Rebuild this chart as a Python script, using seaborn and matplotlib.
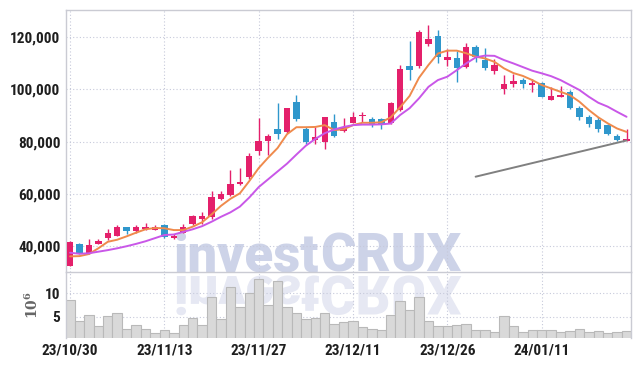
import numpy as np
import pandas as pd
import matplotlib
matplotlib.use("Agg")
import matplotlib.pyplot as plt
import seaborn as sns
from matplotlib.textpath import TextPath
from matplotlib.patches import PathPatch
from matplotlib.font_manager import FontProperties
from matplotlib.transforms import Affine2D
from matplotlib.ticker import FuncFormatter

# ---------------- data ----------------
trading_days = pd.bdate_range("2023-10-30", "2024-01-24", freq="C",
                              holidays=["2023-12-25", "2023-12-29", "2024-01-01"])
dates = [d.strftime("%y/%m/%d") for d in trading_days]

open_ = [32300, 40650, 37100, 40800, 43100, 43800, 47200, 45600, 46300, 46200,
         47900, 43100, 45000, 48300, 50400, 50900, 58000, 59600, 63700, 66500,
         76500, 80100, 84700, 83800, 95300, 84800, 80700, 79900, 87500, 84100,
         87200, 89800, 88700, 88600, 87200, 92100, 109000, 109000, 117400, 120500,
         111200, 112050, 108600, 116200, 111400, 107200, 100300, 102200, 103600, 101900,
         102450, 96050, 97200, 98900, 92900, 89400, 88250, 86200, 82100, 80200]
high = [41900, 40900, 42400, 42700, 46300, 47900, 47300, 48100, 48600, 47900,
        48200, 44400, 48200, 51600, 52800, 61100, 61000, 69100, 69700, 75600,
        89100, 82900, 94700, 92900, 97900, 85400, 85700, 89500, 90600, 88900,
        91300, 91300, 89400, 88900, 95200, 109250, 118600, 122700, 124700, 122900,
        115400, 114900, 117900, 116900, 115900, 111600, 105400, 106000, 104400, 104000,
        102850, 101000, 101200, 99900, 93500, 90200, 89500, 86800, 83000, 84700]
low = [32100, 36900, 36900, 40600, 42200, 43600, 44400, 45000, 46000, 45900,
       43100, 42600, 44800, 47900, 48300, 50400, 57500, 59200, 63200, 65500,
       74800, 74800, 80800, 83400, 88000, 79000, 79000, 77000, 81800, 83500,
       87000, 87500, 85450, 84700, 86800, 91800, 103600, 108100, 116800, 110250,
       109100, 102700, 108100, 110600, 107300, 106000, 98300, 100800, 100400, 98900,
       97000, 95900, 97100, 92500, 88100, 85600, 83600, 82600, 80100, 80100]
close = [41400, 37100, 40150, 41900, 44900, 47200, 45600, 47200, 47200, 47200,
         43500, 43800, 47100, 51400, 51400, 58700, 59800, 63700, 64450, 74300,
         80200, 82100, 82800, 92700, 88600, 79900, 81700, 89300, 82200, 85450,
         89300, 90100, 86200, 86300, 94800, 107800, 107400, 122100, 119350, 112300,
         112400, 108300, 116200, 112560, 108200, 109400, 102100, 103200, 102100, 102500,
         97200, 97350, 97700, 93000, 89400, 86800, 84800, 83000, 80600, 80900]
ma5 = [35900, 36000, 36800, 39000, 41500, 42300, 43600, 45000, 46300, 46800,
       46700, 46000, 46000, 47300, 49000, 52000, 55300, 58000, 60100, 64800,
       69800, 73800, 77500, 82800, 85500, 85500, 85600, 86300, 84400, 84700,
       86300, 87200, 87200, 87400, 89300, 93200, 97500, 104500, 109400, 113800,
       114900, 114900, 113900, 112600, 111900, 110600, 108100, 106300, 105200, 103600,
       101700, 100400, 99100, 97800, 95300, 92100, 89300, 87000, 85000, 83700]
ma10 = [37300, 36900, 37100, 37700, 38300, 39000, 39800, 40700, 41700, 42900,
        44100, 44300, 45300, 46300, 47500, 49200, 51100, 52800, 55000, 58500,
        62500, 65500, 68500, 71500, 75000, 78400, 81000, 83200, 84600, 85600,
        86300, 86500, 86500, 86600, 86900, 90200, 92800, 96600, 101000, 103600,
        104900, 107400, 110000, 112300, 113000, 112900, 111300, 110000, 108600, 107200,
        106200, 105100, 103600, 101700, 99800, 97200, 94900, 93400, 91400, 89500]
volume_m = [8.6, 4.0, 5.4, 2.9, 5.2, 5.8, 2.3, 3.3, 2.3, 1.5,
            2.1, 1.5, 3.1, 4.8, 3.1, 9.2, 4.4, 11.25, 7.1, 10.0,
            13.1, 7.5, 12.6, 7.1, 5.8, 4.4, 4.6, 5.8, 3.5, 3.75,
            4.0, 2.7, 2.3, 2.1, 5.4, 8.3, 6.5, 9.2, 4.0, 2.9,
            2.9, 3.1, 3.5, 2.1, 2.1, 1.7, 5.2, 2.9, 1.7, 2.1,
            2.1, 2.1, 1.7, 1.9, 2.3, 1.7, 1.9, 1.5, 1.7, 1.9]
trend_dates = ["24/01/02", "24/01/24"]
trend_values = [66500, 80400]
tick_labels = ["23/10/30", "23/11/13", "23/11/27", "23/12/11", "23/12/26", "24/01/11"]
price_ticks = [40000, 60000, 80000, 100000, 120000]
volume_ticks = [5, 10]

# ---------------- style ----------------
RED = "#e4206b"
BLUE = "#2f97cc"
ORANGE = "#ef8a4c"
PURPLE = "#c957e8"
GRID = "#c6c9da"
SPINE = "#cacbd3"
TXT = "#1e1e1e"

sns.set_theme(style="white")
plt.rcParams["font.family"] = ["Liberation Sans Narrow", "Roboto Condensed",
                               "Open Sans Condensed", "Liberation Sans", "DejaVu Sans"]
plt.rcParams["font.weight"] = "bold"

df = pd.DataFrame({"date": dates, "open": open_, "high": high, "low": low,
                   "close": close, "ma5": ma5, "ma10": ma10, "vol": volume_m})
df["pos"] = np.arange(len(df))
pos_of = {d: i for i, d in enumerate(dates)}

W, H = 639, 366
fig = plt.figure(figsize=(W / 100, H / 100), dpi=100, facecolor="white")
L, R = 66, 630.5
ax = fig.add_axes([L / W, 1 - 272 / H, (R - L) / W, (272 - 9.5) / H])
axv = fig.add_axes([L / W, 1 - 337.7 / H, (R - L) / W, (337.7 - 272) / H])
for a in (ax, axv):
    a.set_facecolor("none")

# ---------------- watermark (behind everything) ----------------
WM_FONT = ["Roboto", "DejaVu Sans"]
wm_main = "#cdd3e8"
wm_refl = "#e6e8f3"
wm_items = [("invest", 38, 174), ("CRUX", 39, 320)]
for txt, size, xl in wm_items:
    fig.text(xl / W, 1 - 272 / H, txt, fontsize=size, family=WM_FONT,
             fontweight="black", color=wm_main, ha="left", va="baseline", zorder=-2)
    prop = FontProperties(family=WM_FONT, weight="black")
    tp = TextPath((0, 0), txt, size=size * fig.dpi / 72, prop=prop)
    tr = Affine2D().scale(1, -1).translate(xl, H - 276)
    fig.add_artist(PathPatch(tp, transform=tr, facecolor=wm_refl,
                             edgecolor="none", zorder=-3))

# ---------------- candles ----------------
up = df["close"] >= df["open"]
colors = np.where(up, RED, BLUE)
ax.vlines(df["pos"], df["low"], df["high"], colors=colors, lw=1.0, zorder=3)
body = np.maximum((df["close"] - df["open"]).abs(), 300)
ax.bar(df["pos"], body, bottom=np.minimum(df["open"], df["close"]),
       width=0.68, color=colors, linewidth=0, zorder=4)

sns.lineplot(data=df, x="pos", y="ma5", color=ORANGE, lw=1.4, ax=ax, zorder=5)
sns.lineplot(data=df, x="pos", y="ma10", color=PURPLE, lw=1.4, ax=ax, zorder=5)
ax.plot([pos_of[d] for d in trend_dates], trend_values, color="#808080", lw=1.4, zorder=5)

# ---------------- volume ----------------
sns.barplot(data=df, x="pos", y="vol", native_scale=True, width=1.0,
            color="#d9d9d9", edgecolor="#b9b9b9", linewidth=0.8,
            saturation=1, ax=axv, zorder=2)

# ---------------- axes formatting ----------------
xt = [pos_of[t] for t in tick_labels]
for a in (ax, axv):
    a.set_xlim(-0.43, 59.42)
    a.set_xticks(xt)
    a.set_xlabel("")
    a.grid(True, color=GRID, ls=(0, (1, 2)), lw=0.8)
    a.set_axisbelow(True)
    a.tick_params(length=0, labelsize=11, labelcolor=TXT, pad=4)
    for s in a.spines.values():
        s.set_color(SPINE)
        s.set_linewidth(1.0)

ax.set_ylim(29900, 130700)
ax.set_yticks(price_ticks)
ax.yaxis.set_major_formatter(FuncFormatter(lambda v, p: f"{int(v):,}"))
ax.set_ylabel("")
ax.set_xticklabels([])

axv.set_ylim(0.5, 14.5)
axv.set_yticks(volume_ticks)
axv.set_yticklabels([str(v) for v in volume_ticks])
axv.set_xticklabels(tick_labels)
axv.spines["bottom"].set_visible(False)
axv.spines["top"].set_visible(False)
axv.set_ylabel(r"$10^{6}$", fontsize=10, color="#666666", labelpad=3,
               fontweight="normal", math_fontfamily="dejavuserif")

fig.savefig("out.png", dpi=100, facecolor="white")
